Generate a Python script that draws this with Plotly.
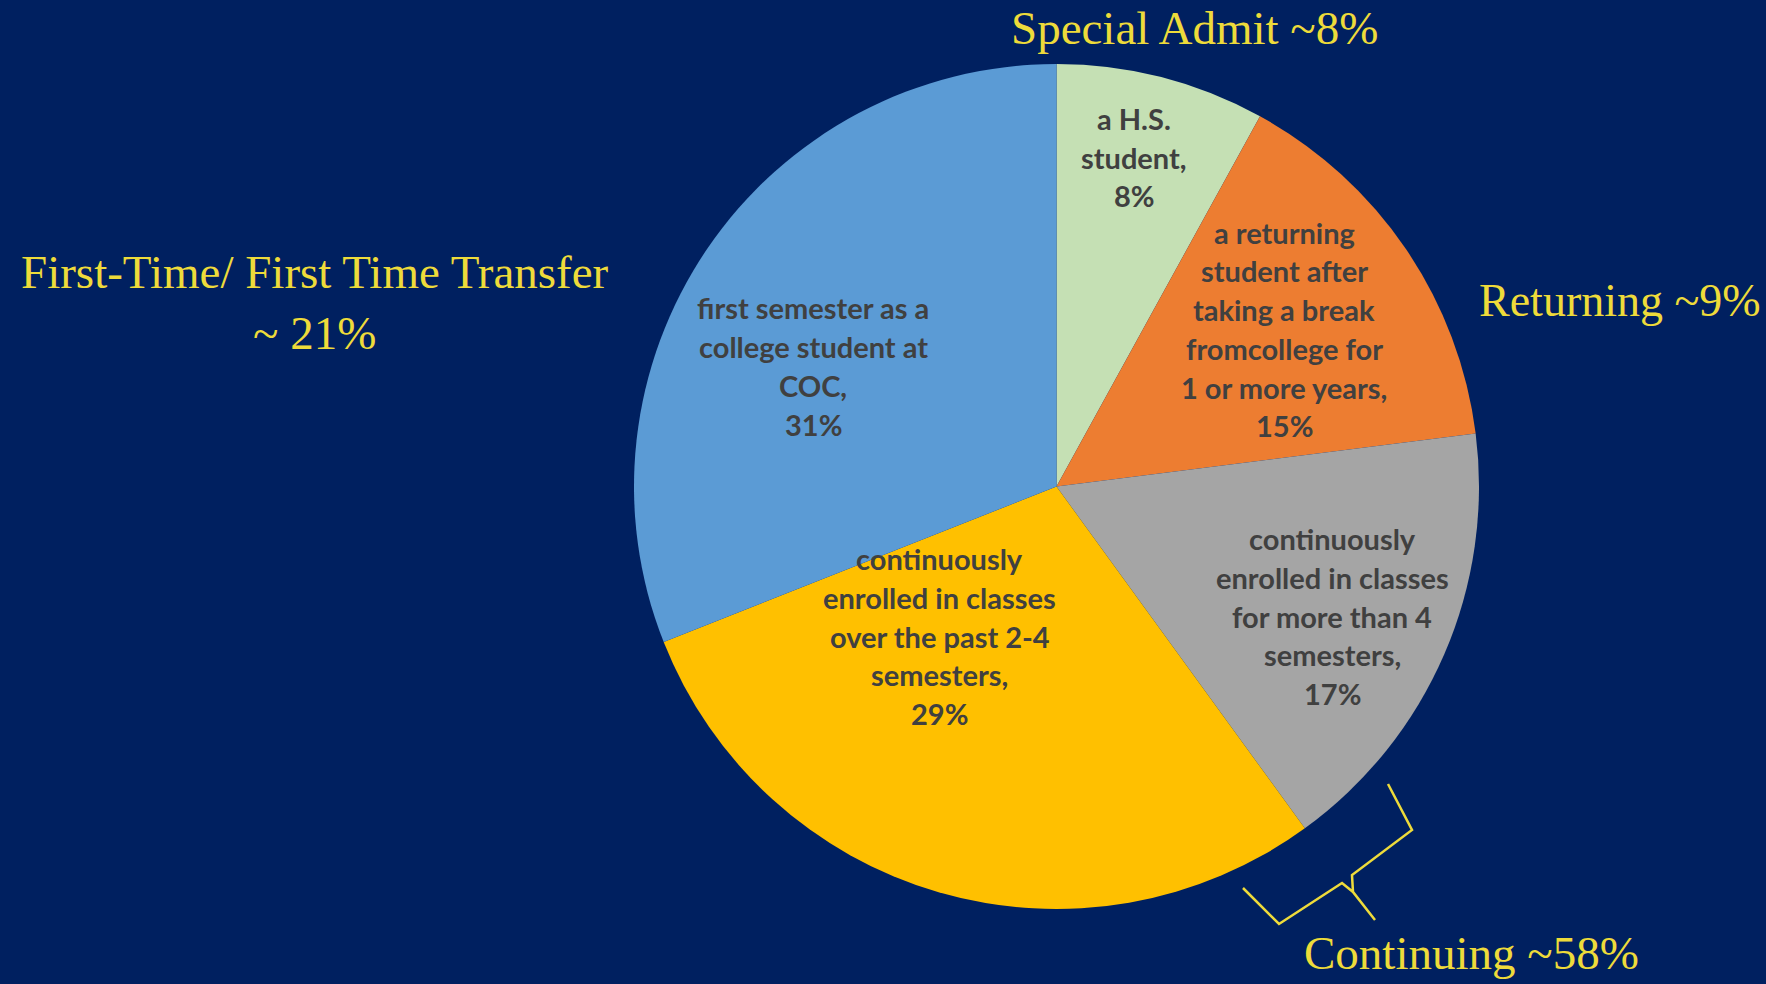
import plotly.graph_objects as go

W, H = 1766, 984

# slices, clockwise from 12 o'clock
categories = [
    "a H.S. student",
    "a returning student after taking a break fromcollege for 1 or more years",
    "continuously enrolled in classes for more than 4 semesters",
    "continuously enrolled in classes over the past 2-4 semesters",
    "first semester as a college student at COC",
]
values = [8, 15, 17, 29, 31]
wrapped = [
    ["a H.S.", "student,"],
    ["a returning", "student after", "taking a break", "fromcollege for", "1 or more years,"],
    ["continuously", "enrolled in classes", "for more than 4", "semesters,"],
    ["continuously", "enrolled in classes", "over the past 2-4", "semesters,"],
    ["first semester as a", "college student at", "COC,"],
]

group_labels = [
    "Special Admit ~8%",
    "Returning ~9%",
    "Continuing ~58%",
    "First-Time/ First Time Transfer<br>~ 21%",
]

# styling / layout
BG = "#002060"
SLICE_COLORS = ["#C5E0B4", "#ED7D31", "#A5A5A5", "#FFC000", "#5B9BD5"]
LABEL_COLOR = "#404040"
GOLD = "#EEDB3A"
LABEL_FONT = "Lato"
SERIF = "Liberation Serif"
LINE_STEP = 38.8

# label block centres in pixels (x, y)
label_xy = [(1134, 157), (1284, 329), (1332, 616), (940, 636), (813, 366)]
group_xy = [(1194, 28), (1620, 300), (1471, 953), (315, 302)]
group_sizes = [47, 46, 47, 47]

fig = go.Figure(
    go.Pie(
        labels=categories,
        values=values,
        sort=False,
        direction="clockwise",
        rotation=0,
        marker=dict(colors=SLICE_COLORS, line=dict(width=0)),
        textinfo="none",
        hoverinfo="label+percent",
        showlegend=False,
        domain=dict(x=[634 / W, 1479 / W], y=[1 - 909 / H, 1 - 64 / H]),
    )
)

annotations = []
for lines, v, (cx, cy) in zip(wrapped, values, label_xy):
    all_lines = lines + [f"{v}%"]
    n = len(all_lines)
    for i, ln in enumerate(all_lines):
        y = cy + (i - (n - 1) / 2) * LINE_STEP
        annotations.append(
            dict(
                x=cx / W, y=1 - y / H, xref="paper", yref="paper",
                text=f"<b>{ln}</b>", showarrow=False,
                xanchor="center", yanchor="middle",
                font=dict(family=LABEL_FONT, size=29, color=LABEL_COLOR),
            )
        )

for txt, (gx, gy), sz in zip(group_labels, group_xy, group_sizes):
    annotations.append(
        dict(
            x=gx / W, y=1 - gy / H, xref="paper", yref="paper",
            text=txt, showarrow=False, xanchor="center", yanchor="middle",
            font=dict(family=SERIF, size=sz, color=GOLD),
        )
    )

# curly brace under the "continuing" slices
brace = [(1243, 888), (1279, 924), (1342, 883), (1353, 892), (1375, 920),
         (1353, 892), (1352, 875), (1412, 830), (1388, 784)]
path = "M " + " L ".join(f"{x / W:.5f},{1 - y / H:.5f}" for x, y in brace)

fig.update_layout(
    width=W,
    height=H,
    margin=dict(l=0, r=0, t=0, b=0),
    paper_bgcolor=BG,
    plot_bgcolor=BG,
    annotations=annotations,
    shapes=[dict(type="path", path=path, xref="paper", yref="paper",
                 line=dict(color=GOLD, width=2.5))],
)

fig.write_html(
    "out.html",
    config={"displayModeBar": False},
    post_script="document.body.style.margin='0';document.body.style.overflow='hidden';",
)
